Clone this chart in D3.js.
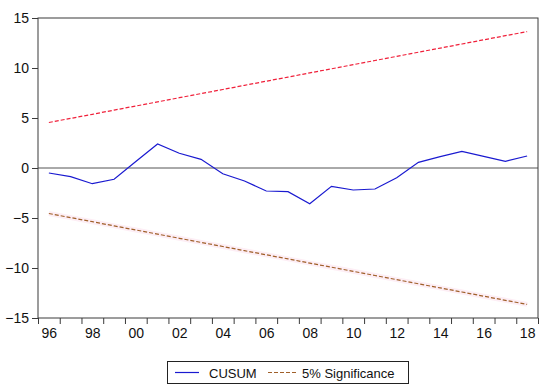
<!DOCTYPE html>
<html>
<head>
<meta charset="utf-8">
<script src="https://cdn.jsdelivr.net/npm/d3@7"></script>
<style>
  html, body { margin: 0; padding: 0; background: #fff; }
  svg { display: block; font-family: Arial, "Liberation Sans", sans-serif; }
</style>
</head>
<body>
<svg id="chart" width="550" height="390"></svg>
<script>
const years = ["96","97","98","99","00","01","02","03","04","05","06","07","08","09","10","11","12","13","14","15","16","17","18"];
const cusum = [-0.5, -0.87, -1.57, -1.13, 0.65, 2.4, 1.47, 0.87, -0.57, -1.3, -2.3, -2.37, -3.57, -1.83, -2.2, -2.1, -0.97, 0.57, 1.13, 1.67, 1.17, 0.67, 1.2];
const upper = [4.55, 4.96, 5.37, 5.79, 6.20, 6.61, 7.03, 7.44, 7.85, 8.27, 8.68, 9.09, 9.51, 9.92, 10.33, 10.75, 11.16, 11.58, 11.99, 12.40, 12.82, 13.23, 13.64];
const lower = [-4.55, -4.96, -5.37, -5.79, -6.20, -6.61, -7.03, -7.44, -7.85, -8.27, -8.68, -9.09, -9.51, -9.92, -10.33, -10.75, -11.16, -11.58, -11.99, -12.40, -12.82, -13.23, -13.64];
const yTicks = [-15, -10, -5, 0, 5, 10, 15];
const xTickLabels = ["96","98","00","02","04","06","08","10","12","14","16","18"];
const legendLabels = ["CUSUM", "5% Significance"];

const svg = d3.select("#chart");
const L = 38, R = 538, T = 18, B = 318;

const x = d3.scaleBand().domain(years).range([L, R]).padding(0);
const xc = d => x(d) + x.bandwidth() / 2;
const y = d3.scaleLinear().domain([-15, 15]).range([B, T]);

const frameColor = "#3a3a3a";

// zero line
svg.append("line")
  .attr("x1", L).attr("x2", R).attr("y1", y(0)).attr("y2", y(0))
  .attr("stroke", "#555").attr("stroke-width", 1);

// frame
svg.append("rect")
  .attr("x", L).attr("y", T).attr("width", R - L).attr("height", B - T)
  .attr("fill", "none").attr("stroke", frameColor).attr("stroke-width", 1);

// y axis
const yAxis = svg.append("g")
  .attr("transform", `translate(${L},0)`)
  .call(d3.axisLeft(y).tickValues(yTicks).tickSize(6).tickPadding(3).tickFormat(d3.format("d")));
yAxis.select(".domain").remove();
yAxis.selectAll("line").attr("stroke", frameColor);
yAxis.selectAll("text").attr("font-size", 14).attr("fill", "#111")
  .attr("font-family", "Arial, 'Liberation Sans', sans-serif");

// x axis ticks at band boundaries
const bounds = d3.scaleLinear().domain([0, years.length]).range([L, R]);
const xTickAxis = svg.append("g")
  .attr("transform", `translate(0,${B})`)
  .call(d3.axisBottom(bounds).tickValues(d3.range(0, years.length + 1)).tickSize(6).tickFormat(""));
xTickAxis.select(".domain").remove();
xTickAxis.selectAll("line").attr("stroke", frameColor);

// x labels at band centers
const xLab = d3.scalePoint().domain(years).range([xc(years[0]), xc(years[years.length - 1])]);
const xLabAxis = svg.append("g")
  .attr("transform", `translate(0,${B})`)
  .call(d3.axisBottom(xLab).tickValues(xTickLabels).tickSize(0).tickPadding(10));
xLabAxis.select(".domain").remove();
xLabAxis.selectAll("text").attr("font-size", 14).attr("fill", "#111")
  .attr("font-family", "Arial, 'Liberation Sans', sans-serif");

const line = d3.line().x((d, i) => xc(years[i])).y(d => y(d));

// faint pink halo under lower band
svg.append("path").datum(lower)
  .attr("d", line).attr("fill", "none")
  .attr("stroke", "#fdeef5").attr("stroke-width", 5);

svg.append("path").datum(upper)
  .attr("d", line).attr("fill", "none")
  .attr("stroke", "#f0203a").attr("stroke-width", 1.2).attr("stroke-dasharray", "4,2");

svg.append("path").datum(lower)
  .attr("d", line).attr("fill", "none")
  .attr("stroke", "#a0602a").attr("stroke-width", 1.2).attr("stroke-dasharray", "4,2");

svg.append("path").datum(cusum)
  .attr("d", line).attr("fill", "none")
  .attr("stroke", "#1a1ad0").attr("stroke-width", 1.2);

// legend
const lg = svg.append("g");
lg.append("rect").attr("x", 167.5).attr("y", 361.5).attr("width", 241).attr("height", 22)
  .attr("fill", "#fff").attr("stroke", "#222").attr("stroke-width", 1);
lg.append("line").attr("x1", 175).attr("x2", 199).attr("y1", 372.5).attr("y2", 372.5)
  .attr("stroke", "#1a1ad0").attr("stroke-width", 1.2);
lg.append("text").attr("x", 209).attr("y", 377.5).attr("font-size", 13).attr("fill", "#111")
  .text(legendLabels[0]);
lg.append("line").attr("x1", 268).attr("x2", 298).attr("y1", 372.5).attr("y2", 372.5)
  .attr("stroke", "#a0602a").attr("stroke-width", 1.2).attr("stroke-dasharray", "4,2");
lg.append("text").attr("x", 302).attr("y", 377.5).attr("font-size", 13).attr("fill", "#111")
  .text(legendLabels[1]);
</script>
</body>
</html>
